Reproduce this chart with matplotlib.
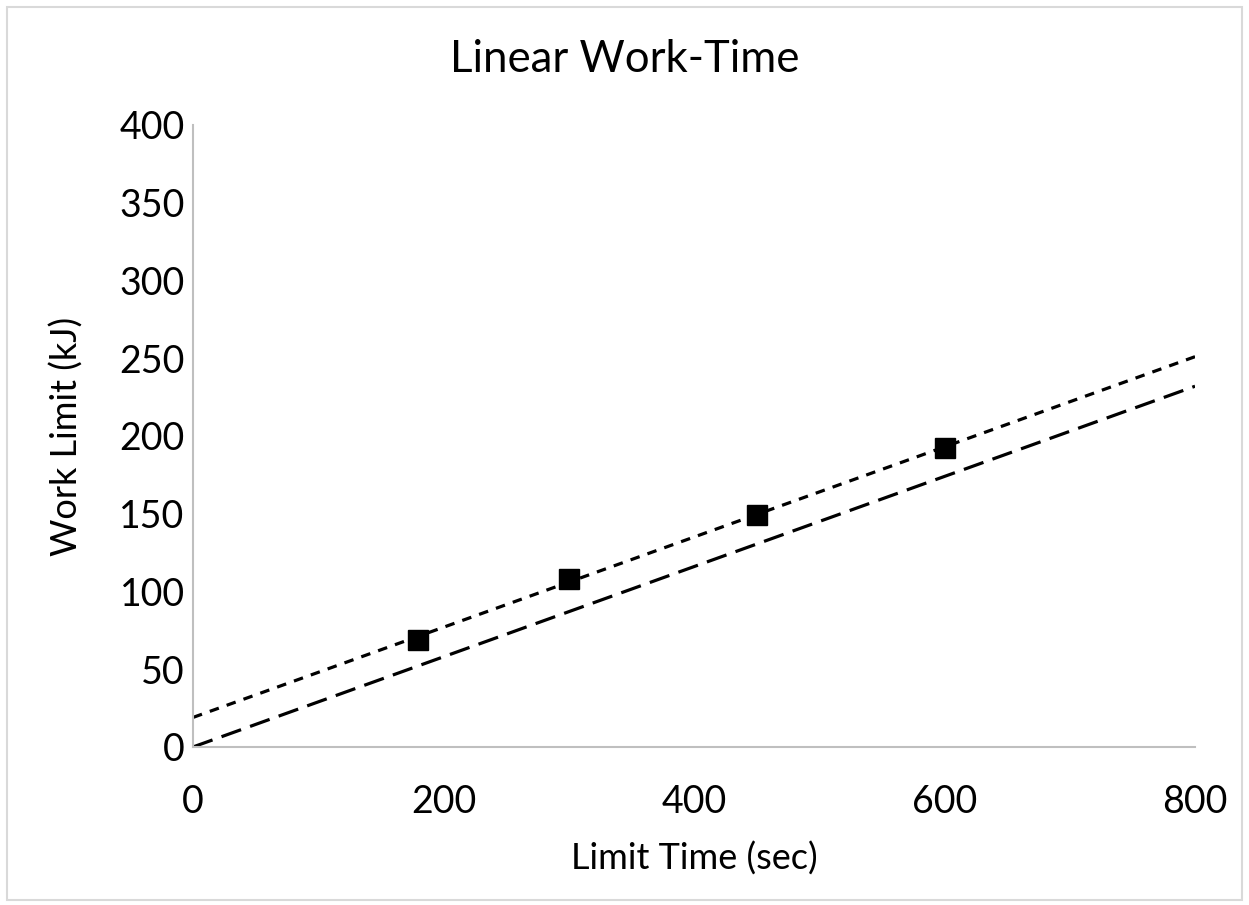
import matplotlib.pyplot as plt
from matplotlib.patches import Rectangle

plt.rcParams['font.family'] = ['Lato', 'DejaVu Sans']

limit_time = [180, 300, 450, 600]
work_limit = [69, 108, 149, 192]

fit_x = [0, 800]
fit_upper = [19, 251]
fit_lower = [0, 232]

fig = plt.figure(figsize=(12.49, 9.05), dpi=100)
ax = fig.add_axes([0.1545, 0.1746, 0.8023, 0.6873])

ax.plot(fit_x, fit_upper, color='black', lw=2.3, linestyle=(0, (3, 2.6)))
ax.plot(fit_x, fit_lower, color='black', lw=2.3, linestyle=(0, (6.5, 3)))
ax.plot(limit_time, work_limit, 's', color='black', markersize=14, zorder=3)

ax.set_xlim(0, 800)
ax.set_ylim(0, 400)
ax.set_xticks(range(0, 801, 200))
ax.set_yticks(range(0, 401, 50))
ax.tick_params(length=0, labelsize=27)
ax.tick_params(axis='x', pad=27)
ax.tick_params(axis='y', pad=6)
for s in ['top', 'right']:
    ax.spines[s].set_visible(False)
for s in ['left', 'bottom']:
    ax.spines[s].set_color('#BFBFBF')
    ax.spines[s].set_linewidth(1.5)

fig.text(0.5, 1 - 60 / 905, 'Linear Work-Time', fontsize=31.5, ha='center', va='center')
ax.set_xlabel('Limit Time (sec)', fontsize=26)
ax.set_ylabel('Work Limit (kJ)', fontsize=26)
ax.xaxis.set_label_coords(0.5, -0.152)
ax.yaxis.set_label_coords(-0.109, 0.5)

fig.patches.append(Rectangle((0.006, 0.006), 0.988, 0.986, transform=fig.transFigure,
                             fill=False, edgecolor='#D9D9D9', lw=1.5))

fig.savefig('out.png', dpi=100)
